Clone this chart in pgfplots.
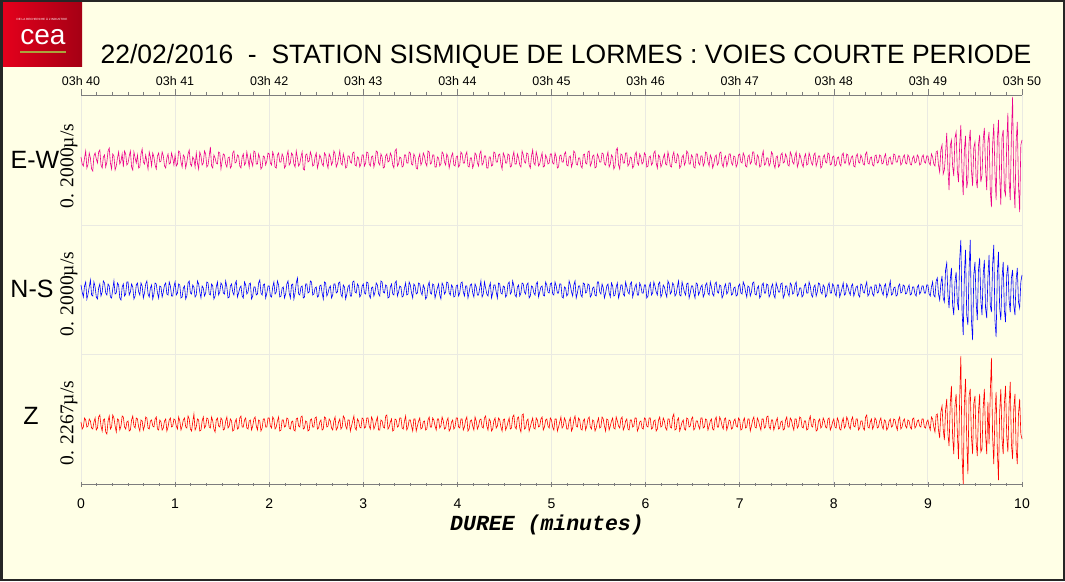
\documentclass[border=0pt]{standalone}
\usepackage{pgfplots}
\pgfplotsset{compat=1.18}
\usepackage{pgfplotstable}
\usepackage{fontspec}
\setmainfont{Liberation Sans}
\newfontfamily\seriffont{Liberation Serif}
\newfontfamily\monofont{Liberation Mono}
\definecolor{bg}{RGB}{255,255,230}
\definecolor{gridc}{RGB}{234,234,226}
\definecolor{axc}{RGB}{125,125,125}
\definecolor{cearedA}{RGB}{228,0,28}
\definecolor{cearedB}{RGB}{165,0,20}
\definecolor{ceaolive}{RGB}{170,165,60}

% deviations (pixel units) of the three channels, one row every 0.75 s from 03h40
\pgfplotstableread{
ew ns z
3 5 2
-4 -2 -5
-6 -7 -3
2 4 6
9 8 4
-8 -9 -3
-4 -4 -2
7 3 5
2 10 3
-9 -5 -4
-11 -6 -5
4 8 2
7 3 6
1 -7 -6
-3 -9 -4
8 2 7
10 6 9
-5 -6 -2
-8 -2 -7
3 9 4
5 7 5
-7 -3 -8
-2 -5 -10
9 6 3
12 4 8
-3 -7 -5
-9 -8 -3
6 1 9
4 9 6
-10 -4 -2
-6 -3 -8
2 7 5
8 5 4
-4 -8 -6
-1 -10 -2
6 3 8
-7 6 7
9 -6 -3
6 -4 -5
-5 8 2
-3 8 3
4 -5 -7
9 -2 -6
-7 6 4
-10 3 8
8 -9 -2
2 -6 -4
-3 5 6
5 7 5
-8 -2 -3
-7 -5 -7
6 7 4
11 4 3
-2 -8 -6
-4 -3 -2
5 6 7
-2 9 6
-9 -4 -4
8 -7 -5
3 2 3
-6 5 4
7 -9 -2
3 -4 -3
-5 7 5
-9 6 7
4 -3 -5
7 -8 -6
-2 4 4
-1 3 2
8 -7 -6
4 -2 -4
-6 5 3
-8 7 5
2 -4 -7
6 -5 -3
-4 8 4
-3 4 6
7 -6 -3
2 -6 -2
-5 3 5
5 8 4
-6 -5 -2
-4 -3 -5
9 6 7
8 5 3
-2 -8 -6
-7 -7 -2
5 2 4
3 4 6
-8 -9 -3
-2 -6 -4
6 7 8
10 9 5
-4 -3 -5
-6 -4 -7
3 5 2
1 3 10
-7 -7 -6
7 -5 -3
-3 9 5
-9 6 4
8 -2 -7
4 -8 -6
-5 4 3
-3 2 7
9 -6 -4
6 -3 -2
-7 8 6
-5 7 5
4 -4 -3
13 -5 -4
-6 6 7
-8 4 3
5 -9 -5
2 -6 -8
-3 3 4
-4 8 6
8 -5 -2
7 -2 -3
-9 7 6
-1 5 4
6 -3 -6
5 -4 -5
-4 9 3
-7 3 7
2 -8 -4
3 -7 -2
-8 4 5
-6 6 3
7 -2 -7
9 -5 -6
-3 6 2
-2 9 5
5 -7 -5
4 -3 -4
-6 2 6
-8 4 8
3 -6 -3
6 -8 -3
-5 8 4
-3 5 6
8 -4 -4
1 -2 -5
-7 6 3
5 7 4
-2 -9 -6
-6 -6 -2
9 3 5
8 3 7
-4 -5 -2
-4 -4 -6
6 7 4
2 10 3
-9 -3 -7
-7 -5 -4
4 5 5
3 6 5
-5 -8 -3
-1 -3 -3
7 4 6
6 4 6
-3 -6 -2
-5 -7 -4
8 3 7
4 8 5
-7 -4 -5
-8 -2 -3
5 9 3
7 5 7
-2 -7 -7
-2 -6 -6
6 2 4
3 3 4
-8 -8 -3
-6 -4 -2
4 6 6
9 9 5
-5 -3 -4
-3 -8 -5
7 5 2
5 6 3
-4 -9 -6
-7 -3 -7
9 7 5
2 12 6
-6 -4 -2
-4 -5 -3
3 3 7
8 4 8
-9 -8 -5
-10 -7 -4
5 6 3
6 6 2
-2 -3 -7
-1 -2 -6
8 9 4
4 8 5
-6 -5 -3
-5 -4 -3
3 2 6
7 3 7
-8 -7 -5
-3 -6 -4
5 4 2
2 5 4
-4 -3 -6
-6 -9 -5
7 8 7
5 7 6
-3 -6 -3
-8 -3 -2
6 2 5
3 4 3
-5 -8 -4
-2 -5 -6
9 6 3
6 6 7
-7 -3 -6
-4 -2 -4
2 7 2
9 8 5
-3 -4 -5
-5 -7 -3
6 5 8
1 3 6
-8 -9 -2
-7 -4 -5
4 3 4
4 5 4
-2 -6 -7
-3 -6 -2
7 8 3
8 9 8
-5 -2 -4
-6 -3 -6
3 6 5
2 4 3
-7 -7 -3
-4 -5 -4
5 4 6
5 6 5
-6 -3 -4
-3 -4 -3
8 8 6
7 7 6
-4 -5 -2
-6 -8 -5
3 2 7
4 3 4
-7 -6 -5
-2 -2 -2
9 7 3
8 5 7
-3 -4 -6
-5 -6 -6
6 9 4
3 8 3
-8 -2 -3
-7 -3 -4
4 5 8
6 4 9
-2 -8 -5
-1 -7 -3
7 3 2
4 6 5
-5 -4 -7
-8 -5 -6
9 7 5
11 9 4
-6 -6 -3
-4 -2 -2
3 4 6
2 3 6
-7 -7 -4
-6 -6 -5
5 2 3
5 7 8
-3 -5 -6
-3 -4 -3
8 8 4
7 5 4
-4 -3 -2
-5 -8 -7
6 6 5
3 4 5
-8 -4 -7
-9 -3 -2
2 7 3
6 6 6
-5 -2 -5
-2 -5 -4
7 5 2
4 2 3
-3 -9 -6
-6 -7 -5
9 4 4
8 8 7
-4 -3 -3
-3 -4 -3
5 6 6
5 5 4
-7 -8 -2
-7 -3 -6
3 2 5
2 6 5
-6 -5 -4
-4 -9 -2
8 7 7
6 4 3
-2 -4 -5
-5 -2 -4
6 8 3
3 7 6
-8 -3 -7
-2 -5 -5
4 5 2
7 3 4
-5 -7 -5
-6 -6 -3
3 4 6
4 5 6
-7 -6 -3
-5 -3 -4
8 7 5
6 8 5
-3 -2 -6
-3 -6 -3
5 4 4
8 4 7
-6 -8 -7
-7 -2 -5
2 5 3
2 6 4
-8 -3 -2
-4 -7 -6
7 6 7
5 3 3
-3 -5 -5
-6 -5 -2
6 2 4
9 9 5
-5 -7 -3
-3 -4 -4
4 8 6
4 2 8
-8 -4 -2
-8 -6 -6
3 3 5
3 7 3
-6 -8 -7
-5 -3 -5
8 5 3
7 5 6
-2 -2 -4
-2 -8 -2
5 7 6
6 6 4
-4 -3 -3
-9 -4 -7
7 4 4
4 3 5
-3 -7 -6
-3 -5 -3
6 6 2
5 8 6
-7 -4 -5
-6 -2 -4
3 9 7
8 4 9
-4 -5 -3
-4 -7 -5
6 3 6
2 5 7
-5 -6 -4
-7 -3 -8
9 7 9
5 6 10
-2 -2 -5
-3 -4 -4
7 5 3
6 7 5
-5 -8 -7
-8 -6 -3
4 4 2
10 3 6
-3 -3 -4
-5 -5 -5
8 6 6
3 8 4
-6 -7 -3
-4 -2 -2
2 3 5
7 4 7
-7 -5 -6
-6 -6 -3
5 8 4
2 5 5
-4 -2 -2
-3 -3 -4
6 6 6
6 7 4
-3 -4 -3
-4 -5 -6
7 8 5
3 4 5
-8 -3 -7
-7 -3 -3
4 6 2
5 6 7
-2 -7 -4
-2 -8 -2
6 3 6
8 2 3
-5 -6 -5
-6 -4 -5
3 9 3
4 5 6
-7 -2 -7
-3 -6 -4
9 5 4
7 9 8
-4 -8 -2
-5 -3 -3
2 4 6
2 4 4
-6 -5 -5
-8 -7 -6
5 7 3
6 6 5
-3 -3 -6
-4 -2 -2
8 6 5
9 5 7
-6 -7 -3
-3 -5 -5
4 2 4
5 3 3
-8 -5 -7
-7 -6 -4
6 8 2
3 8 6
-2 -2 -4
-2 -4 -3
7 6 7
6 2 5
-4 -8 -2
-5 -3 -7
3 4 5
8 6 4
-7 -3 -6
-4 -7 -2
5 7 3
3 4 6
-9 -6 -4
-6 -5 -5
10 3 7
12 7 3
-5 -8 -2
-9 -3 -4
6 5 5
5 5 7
-3 -4 -6
-3 -6 -3
7 8 3
7 3 5
-6 -2 -5
-4 -4 -6
3 6 4
2 8 4
-8 -7 -3
-6 -2 -2
5 3 6
8 6 6
-3 -5 -7
-5 -5 -4
6 7 2
3 4 3
-4 -3 -4
-2 -3 -5
7 5 6
5 5 5
-7 -8 -2
-6 -6 -3
3 3 6
4 7 6
-5 -5 -5
-3 -3 -4
7 8 3
9 4 4
-3 -2 -7
-8 -5 -5
5 6 4
3 8 7
-7 -7 -3
-4 -4 -2
2 5 6
6 3 3
-4 -3 -4
-5 -7 -6
8 9 5
2 6 5
-6 -4 -3
-7 -2 -4
4 7 7
8 5 10
-2 -6 -6
-3 -4 -5
6 3 4
4 9 6
-8 -5 -7
-6 -6 -3
3 8 2
5 3 4
-5 -2 -5
-2 -5 -6
9 6 6
7 7 5
-4 -8 -3
-4 -3 -2
5 4 5
3 4 7
-7 -3 -6
-8 -8 -4
6 7 3
6 6 3
-3 -5 -2
-5 -2 -5
4 3 6
4 5 6
-6 -7 -4
-3 -4 -3
8 5 5
7 7 4
-2 -3 -6
-6 -5 -2
5 8 3
2 3 5
-8 -4 -5
-4 -6 -6
3 6 4
5 8 7
-5 -2 -3
-3 -3 -3
7 5 7
8 4 4
-4 -8 -2
-7 -5 -5
2 3 5
4 6 6
-6 -4 -6
-2 -2 -2
6 7 4
6 7 3
-3 -5 -5
-5 -4 -4
4 2 3
3 3 5
-7 -6 -2
-4 -5 -3
5 4 6
6 6 4
-2 -3 -6
-3 -4 -5
7 8 3
4 5 6
-6 -2 -4
-7 -7 -3
3 4 5
5 3 5
-4 -6 -7
-2 -2 -2
8 7 4
8 8 7
-3 -4 -3
-5 -5 -4
5 2 6
3 4 3
-7 -8 -2
-6 -6 -6
4 5 5
9 7 5
-5 -3 -4
-4 -3 -3
2 6 7
2 5 8
-6 -7 -3
-3 -4 -5
8 3 4
6 6 4
-4 -5 -6
-8 -8 -2
3 7 3
4 3 6
-7 -2 -5
-5 -2 -4
5 6 2
7 7 3
-3 -8 -6
-2 -5 -5
6 4 4
3 4 7
-5 -3 -3
-6 -6 -3
8 7 6
5 5 4
-2 -4 -2
-4 -3 -6
4 5 5
8 8 5
-7 -6 -4
-3 -4 -2
6 2 7
2 2 6
-4 -7 -3
-7 -5 -4
3 4 3
6 6 3
-5 -3 -6
-4 -3 -5
7 8 4
3 4 8
-3 -5 -2
-5 -7 -3
5 3 5
7 5 4
-6 -6 -7
-2 -2 -6
4 7 3
4 6 5
-8 -2 -4
-6 -4 -2
3 5 6
5 3 3
-2 -7 -3
-3 -5 -4
7 4 5
6 7 6
-5 -3 -6
-4 -3 -3
3 6 2
4 4 5
-6 -3 -3
-5 -6 -4
2 5 6
3 5 3
-4 -7 -5
-6 -3 -6
5 2 2
7 7 6
-3 -5 -4
-3 -4 -2
6 6 7
5 3 4
-5 -2 -3
-2 -5 -5
3 4 4
4 6 7
-6 -6 -2
-7 -2 -3
4 3 5
6 4 5
-2 -5 -6
-3 -7 -4
5 6 3
2 5 3
-4 -2 -4
-5 -3 -6
6 4 7
8 8 9
-3 -6 -3
-4 -4 -4
2 3 2
3 3 5
-5 -4 -5
-6 -6 -2
4 5 6
5 5 4
-3 -3 -4
-2 -2 -3
5 6 3
4 4 6
-4 -2 -2
-3 -5 -5
3 4 4
6 6 3
-5 -7 -6
-5 -3 -4
2 3 3
3 9 5
-4 -5 -3
-4 -4 -2
6 2 5
5 3 4
-2 -6 -2
-2 -5 -6
4 4 4
4 6 7
-5 -3 -5
-3 -2 -3
3 5 3
5 4 5
-3 -4 -2
-4 -3 -4
5 2 4
3 5 3
-4 -5 -3
-5 -4 -5
2 3 5
4 3 6
-3 -4 -4
-2 -6 -2
5 3 3
3 5 4
-5 -4 -2
-4 -2 -3
3 4 5
5 4 5
-2 -3 -3
-3 -3 -4
4 5 2
4 5 4
-3 -4 -2
-5 -6 -6
6 3 7
3 8 5
-4 -5 -3
-6 -7 -8
8 9 9
9 12 10
-5 -4 -6
-12 -10 -14
10 6 12
15 14 18
-14 -8 -5
-10 -12 -16
6 20 14
27 27 25
-8 -5 -10
-30 -18 -22
14 10 20
20 22 38
-6 -15 -12
-16 -25 -30
22 8 18
28 18 30
-10 -12 -8
-22 -20 -35
15 30 25
35 50 68
-12 -20 -30
-35 -45 -60
10 15 20
24 40 45
-28 -25 -15
-20 -35 -50
18 20 28
30 50 35
-10 -30 -12
-26 -50 -30
12 15 20
18 28 28
-20 -12 -18
-28 -30 -32
15 20 12
25 32 30
-22 -10 -28
-15 -25 -25
20 15 16
32 30 35
-8 -18 -10
-30 -28 -30
18 12 22
28 35 -20
-30 -15 30
-47 -22 66
15 25 -12
36 45 -40
-12 -30 10
-40 -47 32
20 15 -25
40 38 -56
-15 -18 12
-45 -30 35
22 12 -15
30 28 -30
-30 -20 20
-35 -32 38
15 15 -12
47 25 -28
-20 -10 18
-40 -22 42
25 12 -20
63 20 -35
-22 -15 15
-48 -25 30
18 10 -25
38 22 -40
-25 -12 10
-52 -18 25
15 8 -10
20 15 -15
}\seis

\begin{document}
\begin{tikzpicture}
\fill[bg] (0pt,0pt) rectangle (1065pt,581pt);
\useasboundingbox (0pt,0pt) rectangle (1065pt,581pt);
\draw[black!85, line width=2.5pt] (1.25pt,1.25pt) rectangle (1063.75pt,579.75pt);

% logo
\shade[left color=cearedA, right color=cearedB] (3pt,514pt) rectangle (82pt,578pt);
\node[white, font=\fontsize{3}{3}\selectfont] at (42pt,562pt) {DE LA RECHERCHE \`A L'INDUSTRIE};
\node[white, font=\fontsize{28}{28}\selectfont, inner sep=0pt] at (43pt,544pt) {cea};
\draw[ceaolive, line width=2pt] (20pt,529pt) -- (66pt,529pt);

% title
\node[anchor=base, font=\fontsize{26.5}{26.5}\selectfont, inner sep=0pt] at (566pt,517pt)
  {22/02/2016\ \ -\ \ STATION SISMIQUE DE LORMES : VOIES COURTE PERIODE};

% channel labels
\node[font=\fontsize{25}{25}\selectfont] at (35pt,421pt) {E-W};
\node[font=\fontsize{25}{25}\selectfont] at (32pt,292pt) {N-S};
\node[font=\fontsize{25}{25}\selectfont] at (31pt,165pt) {Z};
\node[rotate=90, font=\seriffont\fontsize{19.5}{19.5}\selectfont] at (69pt,415pt) {0. 2000\textmu/s};
\node[rotate=90, font=\seriffont\fontsize{19.5}{19.5}\selectfont] at (69pt,287pt) {0. 2000\textmu/s};
\node[rotate=90, font=\seriffont\fontsize{19.5}{19.5}\selectfont] at (69pt,158pt) {0. 2267\textmu/s};

% x label
\node[font=\monofont\bfseries\itshape\fontsize{21.5}{21.5}\selectfont] at (547pt,56pt) {DUREE (minutes)};

% main axis (bottom, minutes)
\begin{axis}[
  at={(81pt,97pt)}, anchor=south west, scale only axis,
  width=941pt, height=389pt,
  xmin=0, xmax=10, ymin=0, ymax=389,
  axis x line*=bottom, axis y line=none,
  axis line style={axc, line width=0.9pt, -},
  xtick={0,1,...,10}, minor x tick num=5,
  tick style={axc, line width=0.6pt},
  major tick length=5pt, minor tick length=3pt, tick align=center,
  xmajorgrids, major grid style={gridc, line width=0.9pt},
  xticklabel style={font=\fontsize{14}{14}\selectfont, yshift=-9pt},
  /pgf/number format/assume math mode=true,
  clip=false,
]
\draw[gridc, line width=0.9pt] (axis cs:0,130) -- (axis cs:10,130);
\draw[gridc, line width=0.9pt] (axis cs:0,259) -- (axis cs:10,259);
\addplot[magenta, line width=0.6pt] table[x expr=\coordindex/80, y expr=\thisrow{ew}+324] {\seis};
\addplot[blue, line width=0.6pt] table[x expr=\coordindex/80, y expr=\thisrow{ns}+194] {\seis};
\addplot[red, line width=0.6pt] table[x expr=\coordindex/80, y expr=\thisrow{z}+60] {\seis};
\end{axis}

% top axis (clock time)
\begin{axis}[
  at={(81pt,97pt)}, anchor=south west, scale only axis,
  width=941pt, height=389pt,
  xmin=0, xmax=10, ymin=0, ymax=1,
  axis x line*=top, axis y line=none,
  axis line style={axc, line width=0.9pt, -},
  xtick={0,1,...,10},
  xticklabels={03h 40,03h 41,03h 42,03h 43,03h 44,03h 45,03h 46,03h 47,03h 48,03h 49,03h 50},
  minor x tick num=5,
  tick style={axc, line width=0.6pt},
  major tick length=6pt, minor tick length=3pt, tick align=outside,
  xticklabel style={font=\fontsize{12.5}{12.5}\selectfont},
]
\end{axis}
\end{tikzpicture}
\end{document}
